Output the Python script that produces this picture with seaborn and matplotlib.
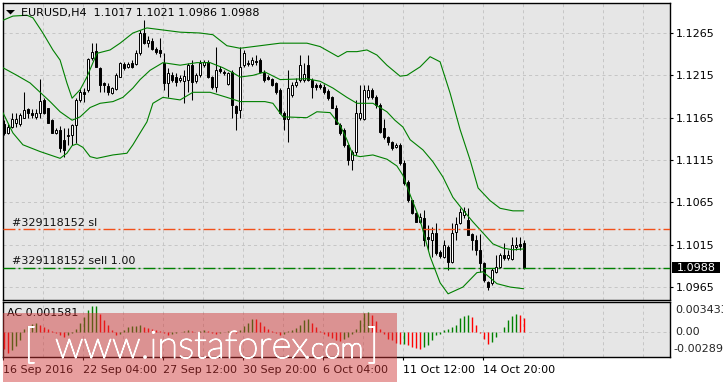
import numpy as np
import pandas as pd
import matplotlib
matplotlib.use("Agg")
import matplotlib.pyplot as plt
import matplotlib.transforms as mtransforms
import matplotlib.patheffects as pe
from matplotlib.patches import Rectangle, Polygon
import seaborn as sns

# ---------------- data ----------------
chart_title = "EURUSD,H4  1.1017 1.1021 1.0986 1.0988"
ac_title = "AC 0.001581"

opens = [1.1158, 1.1147, 1.1154, 1.1159, 1.1158, 1.1165, 1.1175, 1.1170, 1.1166, 1.1170,
         1.1186, 1.1176, 1.1162, 1.1147, 1.1150, 1.1139, 1.1143, 1.1145, 1.1156, 1.1186,
         1.1195, 1.1198, 1.1236, 1.1244, 1.1224, 1.1206, 1.1202, 1.1194, 1.1199, 1.1213,
         1.1228, 1.1225, 1.1230, 1.1228, 1.1241, 1.1265, 1.1253, 1.1256, 1.1246, 1.1245,
         1.1230, 1.1206, 1.1215, 1.1213, 1.1209, 1.1208, 1.1209, 1.1227, 1.1208, 1.1215,
         1.1227, 1.1231, 1.1213, 1.1201, 1.1223, 1.1219, 1.1205, 1.1219, 1.1179, 1.1174,
         1.1227, 1.1228, 1.1228, 1.1232, 1.1233, 1.1218, 1.1213, 1.1211, 1.1206, 1.1198,
         1.1171, 1.1164, 1.1192, 1.1204, 1.1209, 1.1209, 1.1227, 1.1209, 1.1204, 1.1204,
         1.1201, 1.1197, 1.1190, 1.1176, 1.1156, 1.1151, 1.1133, 1.1115, 1.1124, 1.1165,
         1.1164, 1.1190, 1.1198, 1.1190, 1.1180, 1.1153, 1.1142, 1.1136, 1.1130, 1.1133,
         1.1111, 1.1089, 1.1068, 1.1052, 1.1042, 1.1047, 1.1024, 1.1021, 1.1029, 1.1006,
         1.1000, 1.1012, 1.0995, 1.1030, 1.1041, 1.1050, 1.1044, 1.1028, 1.1021, 1.1009,
         1.0993, 1.0971, 1.0970, 1.0983, 1.0989, 1.1003, 1.0999, 1.0998, 1.1012, 1.1016,
         1.1017]
highs = [1.1162, 1.1158, 1.1170, 1.1170, 1.1170, 1.1195, 1.1177, 1.1175, 1.1175, 1.1211,
         1.1188, 1.1177, 1.1164, 1.1153, 1.1155, 1.1153, 1.1153, 1.1158, 1.1188, 1.1199,
         1.1200, 1.1236, 1.1253, 1.1253, 1.1225, 1.1207, 1.1206, 1.1201, 1.1218, 1.1231,
         1.1231, 1.1231, 1.1233, 1.1245, 1.1269, 1.1280, 1.1261, 1.1259, 1.1248, 1.1259,
         1.1241, 1.1224, 1.1219, 1.1218, 1.1215, 1.1221, 1.1230, 1.1233, 1.1218, 1.1233,
         1.1233, 1.1233, 1.1214, 1.1248, 1.1226, 1.1221, 1.1219, 1.1221, 1.1180, 1.1248,
         1.1245, 1.1233, 1.1237, 1.1239, 1.1236, 1.1221, 1.1215, 1.1212, 1.1207, 1.1200,
         1.1173, 1.1221, 1.1207, 1.1212, 1.1239, 1.1230, 1.1239, 1.1212, 1.1206, 1.1206,
         1.1205, 1.1199, 1.1191, 1.1180, 1.1159, 1.1153, 1.1134, 1.1127, 1.1186, 1.1204,
         1.1204, 1.1204, 1.1200, 1.1192, 1.1182, 1.1164, 1.1143, 1.1137, 1.1135, 1.1135,
         1.1115, 1.1091, 1.1068, 1.1054, 1.1052, 1.1056, 1.1038, 1.1036, 1.1041, 1.1009,
         1.1021, 1.1015, 1.1041, 1.1048, 1.1058, 1.1060, 1.1058, 1.1029, 1.1026, 1.1028,
         1.0995, 1.0972, 1.0987, 1.1003, 1.1005, 1.1017, 1.1009, 1.1024, 1.1024, 1.1024,
         1.1021]
lows = [1.1145, 1.1146, 1.1153, 1.1154, 1.1155, 1.1165, 1.1165, 1.1165, 1.1164, 1.1165,
        1.1169, 1.1159, 1.1147, 1.1146, 1.1124, 1.1119, 1.1133, 1.1133, 1.1135, 1.1183,
        1.1183, 1.1195, 1.1233, 1.1225, 1.1195, 1.1195, 1.1192, 1.1193, 1.1198, 1.1213,
        1.1221, 1.1224, 1.1224, 1.1227, 1.1239, 1.1252, 1.1248, 1.1245, 1.1240, 1.1237,
        1.1198, 1.1190, 1.1207, 1.1202, 1.1207, 1.1182, 1.1195, 1.1186, 1.1206, 1.1213,
        1.1225, 1.1212, 1.1199, 1.1195, 1.1218, 1.1215, 1.1204, 1.1165, 1.1151, 1.1165,
        1.1225, 1.1226, 1.1226, 1.1227, 1.1218, 1.1207, 1.1209, 1.1202, 1.1193, 1.1169,
        1.1151, 1.1136, 1.1190, 1.1201, 1.1207, 1.1207, 1.1208, 1.1188, 1.1198, 1.1199,
        1.1193, 1.1186, 1.1176, 1.1157, 1.1145, 1.1130, 1.1109, 1.1103, 1.1121, 1.1162,
        1.1162, 1.1187, 1.1187, 1.1177, 1.1147, 1.1140, 1.1133, 1.1127, 1.1129, 1.1109,
        1.1085, 1.1065, 1.1051, 1.1042, 1.1041, 1.1013, 1.1009, 1.1000, 1.1003, 1.0999,
        1.0999, 1.0985, 1.0993, 1.1021, 1.1039, 1.1047, 1.1026, 1.1009, 1.1003, 1.0983,
        1.0971, 1.0961, 1.0967, 1.0982, 1.0987, 1.0997, 1.0997, 1.0997, 1.1009, 1.1009,
        1.0986]
closes = [1.1147, 1.1154, 1.1163, 1.1163, 1.1168, 1.1174, 1.1170, 1.1168, 1.1170, 1.1185,
          1.1170, 1.1159, 1.1147, 1.1151, 1.1129, 1.1127, 1.1145, 1.1156, 1.1186, 1.1195,
          1.1193, 1.1234, 1.1243, 1.1225, 1.1204, 1.1204, 1.1195, 1.1200, 1.1215, 1.1230,
          1.1224, 1.1228, 1.1225, 1.1241, 1.1265, 1.1253, 1.1257, 1.1246, 1.1243, 1.1241,
          1.1206, 1.1218, 1.1209, 1.1207, 1.1212, 1.1214, 1.1227, 1.1207, 1.1215, 1.1230,
          1.1231, 1.1213, 1.1201, 1.1221, 1.1220, 1.1218, 1.1218, 1.1180, 1.1171, 1.1225,
          1.1241, 1.1230, 1.1233, 1.1231, 1.1219, 1.1209, 1.1211, 1.1204, 1.1195, 1.1170,
          1.1164, 1.1200, 1.1204, 1.1207, 1.1227, 1.1217, 1.1209, 1.1201, 1.1201, 1.1201,
          1.1195, 1.1188, 1.1177, 1.1158, 1.1147, 1.1133, 1.1115, 1.1124, 1.1170, 1.1170,
          1.1198, 1.1198, 1.1190, 1.1180, 1.1148, 1.1142, 1.1136, 1.1129, 1.1133, 1.1111,
          1.1088, 1.1068, 1.1052, 1.1042, 1.1048, 1.1021, 1.1022, 1.1029, 1.1005, 1.1002,
          1.1015, 1.0995, 1.1029, 1.1039, 1.1054, 1.1055, 1.1026, 1.1021, 1.1009, 1.0993,
          1.0973, 1.0965, 1.0985, 1.0989, 1.1003, 1.0999, 1.1003, 1.1015, 1.1015, 1.1013,
          1.0988]

# Bollinger bands (bar position, price)
upper_x = [-0.2, 2.3, 5.8, 7.3, 9.8, 12.3, 14.1, 15.8, 17.1, 19.1, 20.8, 23.3, 26.6, 29.1, 32.3,
           35.8, 39.1, 44.1, 49.1, 52.3, 55.8, 59.1, 64.1, 69.1, 75.8, 79.1, 83.6, 85.8, 88.3, 90.8,
           93.3, 95.8, 99.1, 100.8, 104.1, 106.6, 109.1, 111.6, 114.1, 116.6, 118.6, 121.6, 124.1, 127.3, 130]
upper_p = [1.1280, 1.1285, 1.1286, 1.1283, 1.1265, 1.1245, 1.1233, 1.1206, 1.1188, 1.1198, 1.1213, 1.1241, 1.1245, 1.1253, 1.1265,
           1.1271, 1.1269, 1.1266, 1.1265, 1.1263, 1.1250, 1.1247, 1.1250, 1.1253, 1.1253, 1.1249, 1.1237, 1.1243, 1.1243, 1.1245,
           1.1239, 1.1227, 1.1214, 1.1215, 1.1225, 1.1237, 1.1231, 1.1194, 1.1151, 1.1115, 1.1082, 1.1067, 1.1058, 1.1055, 1.1055]
mid_x = [-0.2, 3.3, 6.6, 9.1, 11.6, 14.1, 17.1, 19.1, 21.6, 24.1, 27.3, 29.8, 32.3, 34.1, 36.6,
         39.8, 44.1, 48.3, 51.6, 54.8, 57.3, 59.1, 62.3, 65.3, 69.1, 75.8, 79.1, 82.3, 85.8, 88.3,
         92.3, 95.8, 97.8, 99.8, 101.6, 104.8, 107.3, 109.8, 112.3, 114.8, 117.3, 119.8, 122.3, 124.8, 127.3, 130]
mid_p = [1.1224, 1.1215, 1.1206, 1.1195, 1.1184, 1.1172, 1.1162, 1.1166, 1.1177, 1.1182, 1.1184, 1.1189, 1.1200, 1.1210, 1.1221,
         1.1230, 1.1227, 1.1230, 1.1230, 1.1224, 1.1218, 1.1213, 1.1215, 1.1219, 1.1210, 1.1211, 1.1208, 1.1200, 1.1189, 1.1182,
         1.1182, 1.1172, 1.1162, 1.1154, 1.1139, 1.1127, 1.1113, 1.1095, 1.1071, 1.1056, 1.1042, 1.1029, 1.1016, 1.1011, 1.1009, 1.1010]
low_x = [-0.2, 2.3, 4.8, 9.1, 11.6, 14.1, 15.8, 17.1, 18.3, 19.8, 21.6, 23.3, 27.3, 30.8, 32.3,
         34.1, 35.8, 37.3, 39.8, 44.1, 47.3, 51.6, 55.8, 59.1, 65.3, 67.3, 69.8, 75.8, 78.3, 81.6,
         84.1, 85.8, 87.3, 89.1, 92.3, 95.8, 98.3, 99.8, 101.6, 104.1, 106.6, 109.1, 111.1, 114.8, 118.3,
         119.8, 121.6, 123.3, 126.6, 130]
low_p = [1.1171, 1.1147, 1.1133, 1.1125, 1.1121, 1.1117, 1.1123, 1.1132, 1.1134, 1.1130, 1.1119, 1.1117, 1.1121, 1.1123, 1.1133,
         1.1147, 1.1160, 1.1182, 1.1189, 1.1186, 1.1195, 1.1195, 1.1189, 1.1184, 1.1184, 1.1182, 1.1166, 1.1165, 1.1172, 1.1171,
         1.1156, 1.1139, 1.1121, 1.1119, 1.1121, 1.1116, 1.1108, 1.1097, 1.1074, 1.1044, 1.1001, 1.0970, 1.0957, 1.0965, 1.0982,
         1.0983, 1.0976, 1.0969, 1.0965, 1.0963]

# Accelerator oscillator
ac_values = [-0.00196, -0.00242, -0.00207, -0.00161, -0.00092, 0.00035, 0.00069, 0.00092, 0.00104, 0.00081,
             0.00058, 0.00035, 0.00012, -0.00012, -0.00035, -0.00058, -0.00035, -0.00012, 0.00035, 0.00104,
             0.00173, 0.00253, 0.00299, 0.00305, 0.00207, 0.00138, 0.00081, 0.00023, -0.00035, -0.00023,
             0.00023, 0.00058, 0.00069, 0.00075, 0.00081, 0.00058, 0.00046, 0.00035, 0.00023, 0.00012,
             -0.00012, -0.00035, -0.00023, -0.00012, 0.00006, 0.00012, 0.00023, 0.00012, 0.00006, 0.00012,
             0.00023, 0.00012, -0.00012, -0.00023, -0.00012, 0.00006, 0.00017, 0.00012, -0.00012, 0.00023,
             0.00069, 0.00104, 0.00150, 0.00146, 0.00115, 0.00069, 0.00035, 0.00012, -0.00012, -0.00035,
             -0.00023, 0.00012, 0.00023, 0.00046, 0.00081, 0.00138, 0.00150, 0.00104, 0.00058, 0.00012,
             -0.00023, -0.00046, -0.00069, -0.00092, -0.00098, -0.00081, -0.00058, -0.00023, 0.00035, 0.00138,
             0.00219, 0.00230, 0.00196, 0.00127, 0.00035, -0.00023, -0.00081, -0.00092, -0.00127, -0.00138,
             -0.00132, -0.00150, -0.00173, -0.00184, -0.00196, -0.00173, -0.00150, -0.00092, -0.00035, -0.00023,
             0.00023, 0.00035, 0.00058, 0.00081, 0.00161, 0.00184, 0.00196, 0.00173, 0.00081, -0.00012,
             -0.00081, -0.00138, -0.00115, -0.00058, 0.00006, 0.00058, 0.00138, 0.00184, 0.00207, 0.00196,
             0.001581]
ac_ticks = [0.003433, 0.0, -0.00289]
ac_tick_labels = ["0.003433", "0.00", "-0.00289"]

price_ticks = [1.0965, 1.1015, 1.1065, 1.1115, 1.1165, 1.1215, 1.1265]
time_label_bars = [0, 20, 40, 60, 80, 100, 120]
time_labels = ["16 Sep 2016", "22 Sep 04:00", "27 Sep 12:00", "30 Sep 20:00",
               "6 Oct 04:00", "11 Oct 12:00", "14 Oct 20:00"]

sl_price = 1.1033
entry_price = 1.0987
bid_price = 1.0988
sl_label = "#329118152 sl"
entry_label = "#329118152 sell 1.00"
bid_label = "1.0988"
watermark_parts = ["[", "www.instaforex", ".com", "]"]

# ---------------- layout ----------------
W, H = 723, 382
def fx(px):
    return px / W
def fy(py):
    return 1 - py / H

sns.set_theme(style="white", rc={"lines.scale_dashes": False})
plt.rcParams["font.family"] = ["DejaVu Sans"]
plt.rcParams["font.size"] = 8

fig = plt.figure(figsize=(W / 100, H / 100), dpi=100, facecolor="white")
ax = fig.add_axes([fx(3), fy(300), fx(670) - fx(3), fy(2.7) - fy(300)])
ax2 = fig.add_axes([fx(3), fy(357.3), fx(670) - fx(3), fy(302.3) - fy(357.3)])

panel_bg = "#e6e6e6"
grid_col = "#c6c6c6"
grid_ls = (0, (2.2, 2.2))
for a in (ax, ax2):
    a.set_facecolor(panel_bg)
    for s in a.spines.values():
        s.set_color("black")
        s.set_linewidth(1.0)
    a.set_axisbelow(True)

idx = np.arange(len(closes))
o = np.array(opens); h = np.array(highs); l = np.array(lows); c = np.array(closes)
bull = c >= o

# order / bid lines
ax.axhline(bid_price, color="#c0c0c0", lw=0.8, zorder=2)
dashdot = (0, (8.6, 2.2, 1.4, 2.2))
ax.axhline(sl_price, color="#f2501a", lw=1.0, linestyle=dashdot, zorder=6)
ax.axhline(entry_price, color="#008000", lw=1.0, linestyle=dashdot, zorder=6)

# candles
ax.vlines(idx, l, h, color="black", lw=0.75, zorder=3)
body_h = np.maximum(np.abs(c - o), 0.00004)
body_b = np.minimum(o, c)
ax.bar(idx, body_h, bottom=body_b, width=0.6,
       color=np.where(bull, "white", "black"), edgecolor="black", linewidth=0.7, zorder=4)

# Bollinger bands via seaborn
for bx, bp in [(upper_x, upper_p), (mid_x, mid_p), (low_x, low_p)]:
    sns.lineplot(x=bx, y=bp, ax=ax, color="#008000", linewidth=0.8, zorder=5, sort=False)

# AC histogram
ac = np.array(ac_values)
ac_cols = ["#ff0000" if (k == 0 or ac[k] < ac[k - 1]) else "#008000" for k in range(len(ac))]
ax2.vlines(idx, 0, ac, colors=ac_cols, lw=1.0, zorder=3)
ax2.axhline(0, color=grid_col, linestyle=grid_ls, lw=0.72, zorder=1)

# axes ranges
px_per_bar = 4.0
x0 = -0.175
x1 = x0 + (670 - 3) / px_per_bar
for a in (ax, ax2):
    a.set_xlim(x0, x1)
ax.set_ylim(1.09497, 1.13008)
ax2.set_ylim(min(ac_ticks), max(ac_ticks))

grid_x = np.arange(0, 170, 10) - 0.1
ax.set_xticks(grid_x)
ax.tick_params(axis="x", length=0, labelbottom=False)
ax.yaxis.tick_right()
ax.set_yticks(price_ticks)
ax.set_yticklabels([f"{v:.4f}" for v in price_ticks])
ax.tick_params(axis="y", direction="out", length=2.5, width=0.8, pad=2, labelsize=8,
               colors="black", right=True, left=False)
ax.grid(True, color=grid_col, linestyle=grid_ls, linewidth=0.72)
ax.set_xlabel(""); ax.set_ylabel("")

ax2.set_xticks(np.array(time_label_bars) - 0.1)
ax2.set_xticklabels(time_labels, ha="left")
ax2.set_xticks(grid_x, minor=True)
ax2.tick_params(axis="x", which="major", direction="out", length=2, width=0.8, pad=3.5,
                labelsize=8, colors="black", bottom=True)
ax2.tick_params(axis="x", which="minor", length=0)
ax2.grid(True, axis="x", which="both", color=grid_col, linestyle=grid_ls, linewidth=0.72)
ax2.set_yticks([])
ax2.set_xlabel(""); ax2.set_ylabel("")

# AC scale labels (MT style: top/bottom labels drawn inside the pane)
btr = mtransforms.blended_transform_factory(ax2.transAxes, ax2.transData)
for v, lab in zip(ac_ticks, ac_tick_labels):
    dy = -7.7 if v == max(ac_ticks) else (8.0 if v == min(ac_ticks) else 0.0)
    dx = 5 if not lab.startswith("-") else 3
    tr = mtransforms.offset_copy(btr, fig=fig, x=dx, y=dy, units="dots")
    ax2.text(1.0, v, lab, transform=tr, va="center", ha="left", fontsize=8, clip_on=False)

# bid price box
ptr = mtransforms.blended_transform_factory(ax.transAxes, ax.transData)
ax.add_patch(Rectangle((1.003, bid_price - 0.00066), 0.072, 0.00132, transform=ptr,
                       clip_on=False, facecolor="black", edgecolor="none", zorder=10))
ax.text(1.0105, bid_price, bid_label, transform=ptr, color="white", va="center", ha="left",
        fontsize=8, clip_on=False, zorder=11)

# texts
fig.add_artist(Polygon([(fx(6), fy(10)), (fx(15), fy(10)), (fx(10.5), fy(14.5))], closed=True,
                       transform=fig.transFigure, facecolor="black", edgecolor="none"))
fig.text(fx(21), fy(12.8), chart_title, fontsize=8, va="center", ha="left", color="black")
fig.text(fx(12), fy(222.5), sl_label, fontsize=8, va="center", ha="left", color="#111111")
fig.text(fx(12), fy(261.5), entry_label, fontsize=8, va="center", ha="left", color="#111111")
fig.text(fx(7), fy(313), ac_title, fontsize=8, va="center", ha="left", color="black")

# watermark
fig.add_artist(Rectangle((fx(3), 0), fx(397) - fx(3), fy(313), transform=fig.transFigure,
                         facecolor="#d03434", alpha=0.47, edgecolor="none", zorder=20))
wm_font = ["Lato", "DejaVu Sans"]
wm_pos = [(24, 30), (55, 27.5), (304, 21), (367, 30)]
for part, (px, fs) in zip(watermark_parts, wm_pos):
    fig.text(fx(px), fy(358), part, fontsize=fs, family=wm_font, weight="light",
             color="white", alpha=1.0, va="baseline", ha="left", zorder=21,
             path_effects=[pe.withStroke(linewidth=0.9, foreground="white")])

fig.savefig("out.png", dpi=100, facecolor="white")
